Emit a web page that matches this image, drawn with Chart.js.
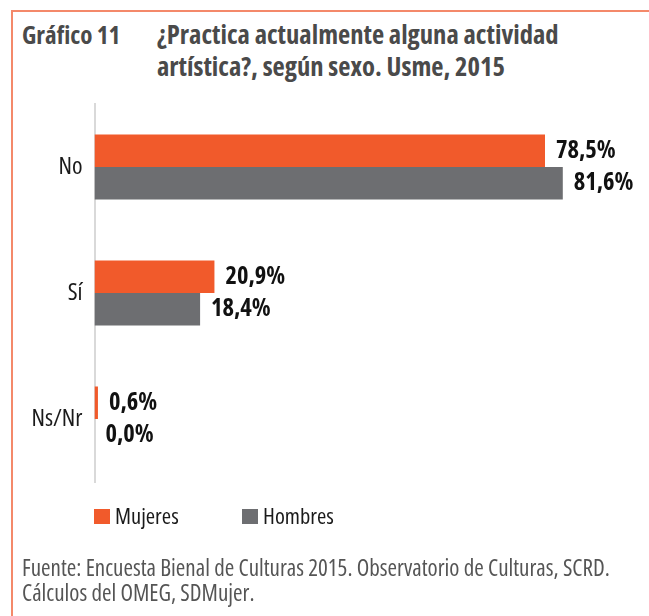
<!DOCTYPE html>
<html lang="es">
<head>
<meta charset="utf-8">
<title>Gráfico 11</title>
<script src="https://cdn.jsdelivr.net/npm/chart.js@4.4.1/dist/chart.umd.min.js"></script>
<style>
    body { margin: 0; width: 649px; height: 616px; background: #fff; overflow: hidden; position: relative;
           font-family: "Open Sans", sans-serif; font-stretch: condensed; }
    .borde { position: absolute; background: #f4896a; }
    #titulo { position: absolute; left: 22px; top: 18px; line-height: 32px;
              font-weight: bold; color: #4a4a4a; }
    #titulo .num { position: absolute; left: 0; top: 0; white-space: nowrap; font-size: 25px; }
    #titulo .txt { position: absolute; left: 135px; top: 0; white-space: nowrap; font-size: 26.6px; }
    #grafico { position: absolute; left: 0; top: 0; }
    #leyenda { position: absolute; left: 94px; top: 502px; font-size: 22.5px; line-height: 28px; color: #1a1a1a; }
    #leyenda span { position: absolute; top: 0; white-space: nowrap; }
    #leyenda i { position: absolute; top: 7px; width: 16px; height: 15px; }
    #fuente { position: absolute; left: 22px; top: 555px; font-size: 23px; line-height: 25px; color: #555; white-space: nowrap; }
</style>
</head>
<body>
<div class="borde" style="left:11px;top:10px;width:638px;height:2px"></div>
<div class="borde" style="left:11px;top:10px;width:2px;height:606px"></div>
<div id="titulo">
    <span class="num">Gráfico 11</span>
    <span class="txt">¿Practica actualmente alguna actividad<br>artística?, según sexo. Usme, 2015</span>
</div>
<canvas id="grafico" width="649" height="616"></canvas>
<div id="leyenda"></div>
<div id="fuente">Fuente: Encuesta Bienal de Culturas 2015. Observatorio de Culturas, SCRD.<br>Cálculos del OMEG, SDMujer.</div>

<script>
// ------------------ DADOS ------------------
const categorias = ["No", "Sí", "Ns/Nr"];
const series = ["Mujeres", "Hombres"];
const mujeres = [78.5, 20.9, 0.6];
const hombres = [81.6, 18.4, 0.0];
const cores = ["#f15a2b", "#6d6e71"];

const fonte = "'Open Sans', sans-serif";

function formatPct(v) {
    return v.toFixed(1).replace(".", ",") + "%";
}

// ------------------ RÓTULOS NAS BARRAS ------------------
const rotulos = {
    id: "rotulos",
    afterDatasetsDraw(chart) {
        const { ctx } = chart;
        ctx.save();
        ctx.font = "bold condensed 24.5px " + fonte;
        ctx.fillStyle = "#111";
        ctx.textBaseline = "middle";
        ctx.textAlign = "left";
        chart.data.datasets.forEach((ds, i) => {
            chart.getDatasetMeta(i).data.forEach((bar, j) => {
                ctx.fillText(formatPct(ds.data[j]), bar.x + 11, bar.y);
            });
        });
        ctx.restore();
    }
};

// ------------------ LEGENDA ------------------
const posLegenda = [0, 148];
document.getElementById("leyenda").innerHTML = series.map((s, i) =>
    `<i style="left:${posLegenda[i]}px;background:${cores[i]}"></i>` +
    `<span style="left:${posLegenda[i] + 21}px">${s}</span>`
).join("");

// ------------------ GRÁFICO ------------------
new Chart(document.getElementById("grafico"), {
    type: "bar",
    data: {
        labels: categorias,
        datasets: [
            { label: series[0], data: mujeres, backgroundColor: cores[0] },
            { label: series[1], data: hombres, backgroundColor: cores[1] }
        ]
    },
    options: {
        indexAxis: "y",
        responsive: false,
        animation: false,
        datasets: { bar: { categoryPercentage: 0.517, barPercentage: 1 } },
        layout: { padding: { left: 0, right: 38, top: 104, bottom: 134 } },
        scales: {
            x: { display: false, min: 0, max: 90 },
            y: {
                afterFit: s => { s.width = 94.5; },
                grid: { display: false, drawTicks: false },
                border: { display: true, color: "#d9d9d9", width: 2 },
                // "condensed" vai no weight para o chart.js montar "condensed 24px 'Open Sans'"
                ticks: { padding: 12, color: "#1a1a1a", font: { family: fonte, size: 24, weight: "condensed" } }
            }
        },
        plugins: {
            legend: { display: false },
            tooltip: { enabled: false }
        }
    },
    plugins: [rotulos]
});
</script>
</body>
</html>
